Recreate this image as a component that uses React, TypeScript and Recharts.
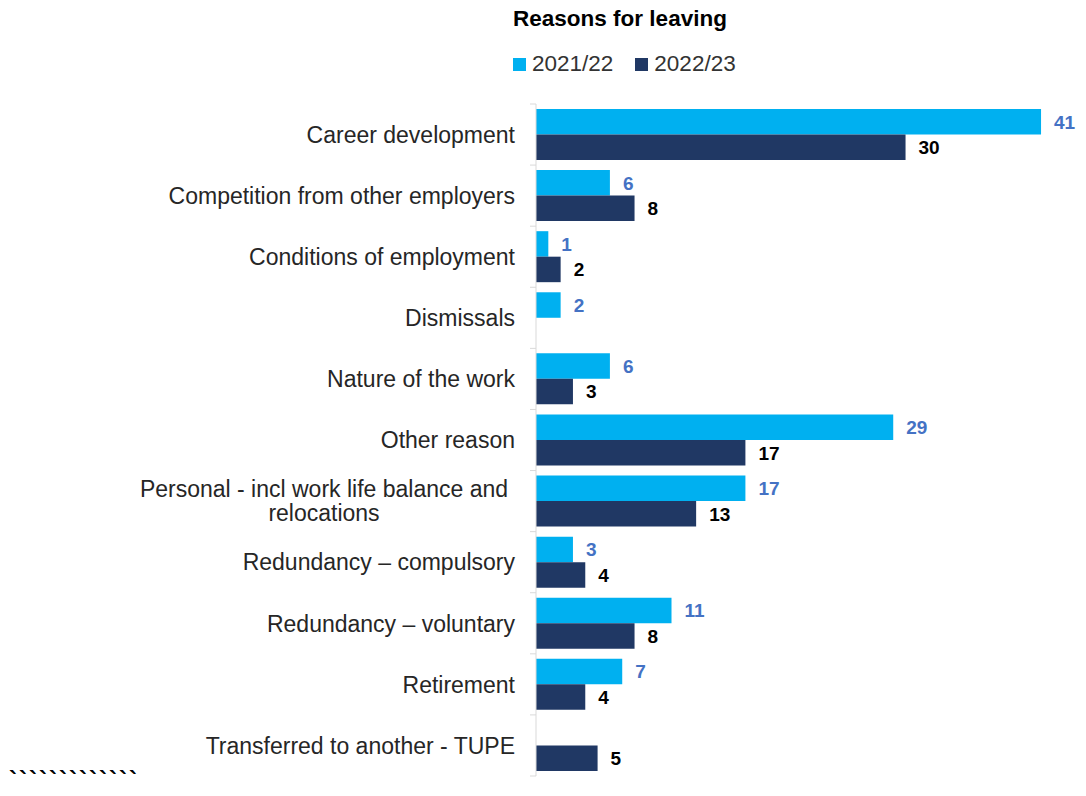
import React from 'react';
import { BarChart, Bar, XAxis, YAxis, LabelList } from 'recharts';

const categories = [
  'Career development',
  'Competition from other employers',
  'Conditions of employment',
  'Dismissals',
  'Nature of the work',
  'Other reason',
  'Personal - incl work life balance and\nrelocations',
  'Redundancy \u2013 compulsory',
  'Redundancy \u2013 voluntary',
  'Retirement',
  'Transferred to another - TUPE',
];

const values2122: (number | null)[] = [41, 6, 1, 2, 6, 29, 17, 3, 11, 7, null];
const values2223: (number | null)[] = [30, 8, 2, null, 3, 17, 13, 4, 8, 4, 5];

const seriesNames = ['2021/22', '2022/23'];

const data = categories.map((name, i) => ({
  name,
  y2122: values2122[i],
  y2223: values2223[i],
}));

const WIDTH = 1086;
const HEIGHT = 796;
const MARGIN = { top: 104, right: 8, bottom: 20, left: 0 };
const AXIS_W = 536;
const BAND = (HEIGHT - MARGIN.top - MARGIN.bottom) / categories.length;

const LIGHT = '#00B0F0';
const DARK = '#203864';
const FONT = '"Liberation Sans", Arial, sans-serif';

const CategoryTick = (props: any) => {
  const { x, y, payload, index } = props;
  const lines = String(payload.value).split('\n');
  const axisX = x + 8;
  const tx = axisX - 21;
  const last = index === categories.length - 1;
  return (
    <g>
      <line x1={axisX - 6} x2={axisX} y1={y - BAND / 2} y2={y - BAND / 2} stroke="#d9d9d9" />
      {last && <line x1={axisX - 6} x2={axisX} y1={y + BAND / 2} y2={y + BAND / 2} stroke="#d9d9d9" />}
      {lines.length === 1 ? (
        <text x={tx} y={y} dy="0.36em" textAnchor="end" fontSize={23} fontFamily={FONT} fill="#262626">
          {lines[0]}
        </text>
      ) : (
        <text x={324} y={y} textAnchor="middle" fontSize={23} fontFamily={FONT} fill="#262626">
          {lines.map((l, k) => (
            <tspan key={k} x={324} y={y - 12 * (lines.length - 1) + 24 * k} dy="0.36em">
              {l}
            </tspan>
          ))}
        </text>
      )}
    </g>
  );
};

const valueLabel = (color: string) => (props: any) => {
  const { x, y, width, height, value } = props;
  if (value == null) return null;
  return (
    <text
      x={x + width + 13}
      y={y + height / 2}
      dy="0.36em"
      fontSize={19}
      fontWeight="bold"
      fontFamily={FONT}
      fill={color}
    >
      {value}
    </text>
  );
};

export default function App() {
  return (
    <div style={{ position: 'absolute', left: 0, top: 0, width: WIDTH, height: HEIGHT, background: '#fff', fontFamily: FONT }}>
      <div style={{ position: 'absolute', left: 0, width: WIDTH, top: 6, textAlign: 'center', paddingLeft: 154, boxSizing: 'border-box', fontSize: 22.5, fontWeight: 'bold', color: '#000' }}>
        Reasons for leaving
      </div>
      <div style={{ position: 'absolute', left: 513, top: 50, display: 'flex', alignItems: 'center', fontSize: 22.5, color: '#333', lineHeight: '28px' }}>
        {seriesNames.map((s, i) => (
          <span key={s} style={{ display: 'flex', alignItems: 'center', marginRight: i === 0 ? 22 : 0 }}>
            <span style={{ width: 13, height: 13, background: i === 0 ? LIGHT : DARK, marginRight: 6, display: 'inline-block' }} />
            {s}
          </span>
        ))}
      </div>
      <BarChart
        width={WIDTH}
        height={HEIGHT}
        data={data}
        layout="vertical"
        margin={MARGIN}
        barGap={0}
        barSize={25.5}
      >
        <XAxis type="number" domain={[0, 44]} hide />
        <YAxis
          type="category"
          dataKey="name"
          width={AXIS_W}
          axisLine={{ stroke: '#d9d9d9' }}
          tickLine={false}
          tick={<CategoryTick />}
          interval={0}
        />
        <Bar dataKey="y2122" name={seriesNames[0]} fill={LIGHT} isAnimationActive={false}>
          <LabelList dataKey="y2122" content={valueLabel('#4472C4')} />
        </Bar>
        <Bar dataKey="y2223" name={seriesNames[1]} fill={DARK} isAnimationActive={false}>
          <LabelList dataKey="y2223" content={valueLabel('#000')} />
        </Bar>
      </BarChart>
      <div style={{ position: 'absolute', left: 9, top: 768, fontSize: 24, fontWeight: 'bold', letterSpacing: 2, color: '#000', lineHeight: '24px' }}>
        {'`````````````'}
      </div>
    </div>
  );
}
